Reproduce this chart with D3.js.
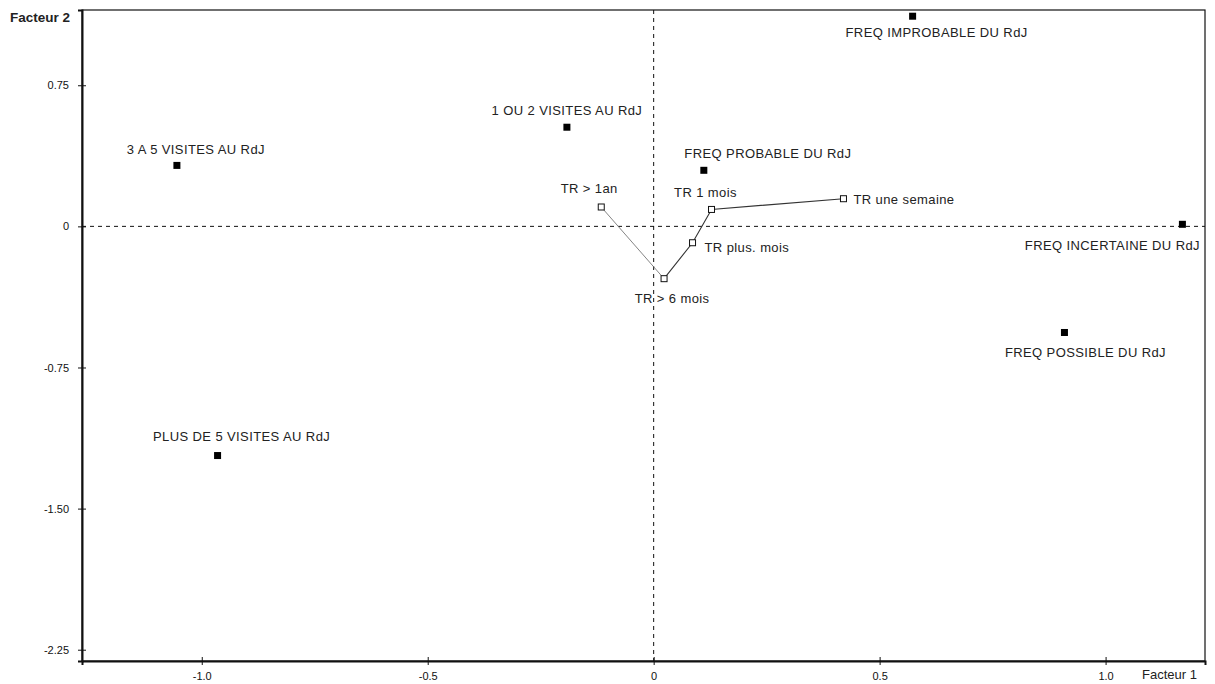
<!DOCTYPE html>
<html>
<head>
<meta charset="utf-8">
<script src="https://cdn.jsdelivr.net/npm/d3@7"></script>
<style>
  body { margin: 0; background: #fff; }
  svg { display: block; font-family: "Liberation Sans", Arial, sans-serif; }
  .lbl { font-size: 13px; letter-spacing: 0.4px; fill: #222; }
  .tick text { font-size: 11px; fill: #111; }
</style>
</head>
<body>
<svg id="chart"></svg>
<script>
// modalities (filled squares)
const modNames = ["FREQ IMPROBABLE DU RdJ", "1 OU 2 VISITES AU RdJ", "3 A 5 VISITES AU RdJ",
  "FREQ PROBABLE DU RdJ", "FREQ INCERTAINE DU RdJ", "FREQ POSSIBLE DU RdJ", "PLUS DE 5 VISITES AU RdJ"];
const modF1 = [0.573, -0.192, -1.055, 0.111, 1.170, 0.909, -0.965];
const modF2 = [1.117, 0.527, 0.324, 0.298, 0.011, -0.564, -1.218];

// TR series (open squares, joined)
const trNames = ["TR > 1an", "TR > 6 mois", "TR plus. mois", "TR 1 mois", "TR une semaine"];
const trF1 = [-0.116, 0.023, 0.086, 0.128, 0.420];
const trF2 = [0.103, -0.278, -0.087, 0.090, 0.147];

const xTicks = [-1.0, -0.5, 0, 0.5, 1.0];
const xTickLabels = ["-1.0", "-0.5", "0", "0.5", "1.0"];
const yTicks = [0.75, 0, -0.75, -1.5, -2.25];
const yTickLabels = ["0.75", "0", "-0.75", "-1.50", "-2.25"];

const W = 1215, H = 684;
const pLeft = 82, pRight = 1205, pTop = 10, pBottom = 661;

// label placement: [dx, dy, anchor]
const place = {
  "FREQ IMPROBABLE DU RdJ": [24, 21, "middle"],
  "1 OU 2 VISITES AU RdJ": [0, -12, "middle"],
  "3 A 5 VISITES AU RdJ": [19, -11, "middle"],
  "FREQ PROBABLE DU RdJ": [64, -12, "middle"],
  "FREQ INCERTAINE DU RdJ": [-70, 26, "middle"],
  "FREQ POSSIBLE DU RdJ": [21, 25, "middle"],
  "PLUS DE 5 VISITES AU RdJ": [24, -15, "middle"],
  "TR > 1an": [-12, -14, "middle"],
  "TR 1 mois": [-6, -12, "middle"],
  "TR une semaine": [10, 5, "start"],
  "TR plus. mois": [12, 9, "start"],
  "TR > 6 mois": [8, 24, "middle"]
};

const svg = d3.select("#chart").attr("width", W).attr("height", H);

const x = d3.scaleLinear().domain([-1.265, 1.22]).range([pLeft, pRight]);
const y = d3.scaleLinear().domain([-2.31, 1.15]).range([pBottom, pTop]);

// frame
svg.append("rect")
  .attr("x", pLeft).attr("y", pTop)
  .attr("width", pRight - pLeft).attr("height", pBottom - pTop)
  .attr("fill", "none").attr("stroke", "#111").attr("stroke-width", 1.2);

// origin dashed lines
svg.append("line")
  .attr("x1", x(0)).attr("x2", x(0)).attr("y1", pTop).attr("y2", pBottom)
  .attr("stroke", "#111").attr("stroke-dasharray", "4,4");
svg.append("line")
  .attr("x1", pLeft).attr("x2", pRight).attr("y1", y(0)).attr("y2", y(0))
  .attr("stroke", "#111").attr("stroke-dasharray", "4,4");

// axes
const xAxis = svg.append("g")
  .attr("transform", `translate(0,${pBottom})`)
  .call(d3.axisBottom(x).tickValues(xTicks).tickSize(4).tickPadding(7)
    .tickFormat((d, i) => xTickLabels[i]));
xAxis.select(".domain").attr("stroke", "#111").attr("stroke-width", 2);
xAxis.selectAll(".tick line").attr("y1", -4).attr("stroke", "#111");
xAxis.selectAll(".tick text").attr("font-family", null).attr("font-size", null);

const yAxis = svg.append("g")
  .attr("transform", `translate(${pLeft},0)`)
  .call(d3.axisLeft(y).tickValues(yTicks).tickSize(4).tickPadding(9)
    .tickFormat((d, i) => yTickLabels[i]));
yAxis.select(".domain").attr("stroke", "#111").attr("stroke-width", 2);
yAxis.selectAll(".tick line").attr("x1", 4).attr("stroke", "#111");
yAxis.selectAll(".tick text").attr("font-family", null).attr("font-size", null);

// axis titles
svg.append("text").attr("x", 10).attr("y", 22)
  .attr("font-size", 13.5).attr("font-weight", "bold").attr("fill", "#222")
  .text("Facteur 2");
svg.append("text").attr("x", 1142).attr("y", 679)
  .attr("font-size", 13).attr("fill", "#222")
  .text("Facteur 1");

// TR line
const tr = trNames.map((n, i) => ({ name: n, f1: trF1[i], f2: trF2[i] }));
svg.append("line")
  .attr("x1", x(tr[0].f1)).attr("y1", y(tr[0].f2))
  .attr("x2", x(tr[1].f1)).attr("y2", y(tr[1].f2))
  .attr("stroke", "#777").attr("stroke-width", 0.9);
svg.append("path")
  .datum(tr.slice(1))
  .attr("fill", "none").attr("stroke", "#333").attr("stroke-width", 1.1)
  .attr("d", d3.line().x(d => x(d.f1)).y(d => y(d.f2)));

svg.selectAll(".tr")
  .data(tr).enter().append("rect")
  .attr("class", "tr")
  .attr("x", d => x(d.f1) - 3).attr("y", d => y(d.f2) - 3)
  .attr("width", 6).attr("height", 6)
  .attr("fill", "#fff").attr("stroke", "#111").attr("stroke-width", 1);

// modality points
const mods = modNames.map((n, i) => ({ name: n, f1: modF1[i], f2: modF2[i] }));
svg.selectAll(".mod")
  .data(mods).enter().append("rect")
  .attr("class", "mod")
  .attr("x", d => x(d.f1) - 3.5).attr("y", d => y(d.f2) - 3.5)
  .attr("width", 7).attr("height", 7)
  .attr("fill", "#000");

// labels
svg.selectAll(".lbl")
  .data(mods.concat(tr)).enter().append("text")
  .attr("class", "lbl")
  .attr("x", d => x(d.f1) + place[d.name][0])
  .attr("y", d => y(d.f2) + place[d.name][1])
  .attr("text-anchor", d => place[d.name][2])
  .text(d => d.name);
</script>
</body>
</html>
